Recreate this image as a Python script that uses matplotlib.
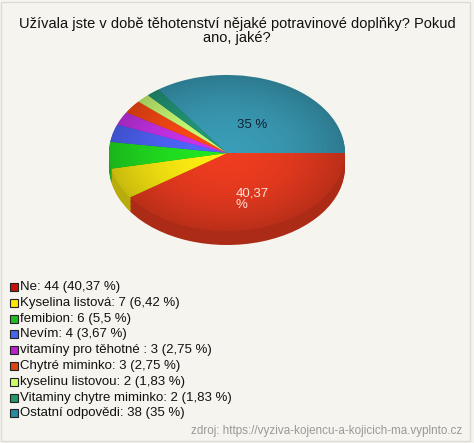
import numpy as np
import matplotlib.pyplot as plt
from matplotlib.patches import Rectangle, Ellipse
from matplotlib.colors import to_rgb

plt.rcParams['font.family'] = ['Liberation Sans', 'DejaVu Sans']

# data
labels = ['Ne', 'Kyselina listová', 'femibion', 'Nevím', 'vitamíny pro těhotné ',
          'Chytré miminko', 'kyselinu listovou', 'Vitaminy chytre miminko', 'Ostatní odpovědi']
counts = [44, 7, 6, 4, 3, 3, 2, 2, 38]
pcts = ['40,37', '6,42', '5,5', '3,67', '2,75', '2,75', '1,83', '1,83', '35']
top_colors = ['#ee3c20', '#ffee11', '#22e622', '#5066ff', '#cc33ee',
              '#ff4a14', '#ccff77', '#229977', '#3a9cb6']
legend_colors = ['#c81408', '#ffe600', '#22bb22', '#4466ee', '#bb22cc',
                 '#dd4411', '#ccff66', '#229966', '#2a8aa0']

bg = '#f5f4ee'
fig = plt.figure(figsize=(4.74, 4.43), dpi=100, facecolor=bg)
W, H = 474, 443

# frame
fig.patches.append(Rectangle((1 / W, 2 / H), 469 / W, 439 / H, transform=fig.transFigure,
                             fill=False, edgecolor='#dcdcd6', linewidth=1))

fig.text(0.5, 1 - 17 / H, 'Užívala jste v době těhotenství nějaké potravinové doplňky? Pokud\nano, jaké?',
         ha='center', va='top', fontsize=10.5, color='#111111', linespacing=1.0)

# pie axes: centre (227,153) px, rx 118, ry 78, depth 14
cx, cy, rx, ry, depth = 227, 153, 118, 78, 14
left = (cx - rx) / W
bottom = 1 - (cy + ry + depth) / H
ax = fig.add_axes([left, bottom, 2 * rx / W, (2 * ry + depth) / H])
ax.set_facecolor('none')

side_colors = [tuple(c * 0.72 for c in to_rgb(col)) for col in top_colors]
d = depth / ry
for off in np.linspace(-d, 0, 12)[:-1]:
    ax.pie(counts, colors=side_colors, startangle=0, counterclock=False,
           center=(0, off), radius=1, wedgeprops=dict(linewidth=0))
wedges, _ = ax.pie(counts, colors=top_colors, startangle=0, counterclock=False,
                   center=(0, 0), radius=1, wedgeprops=dict(linewidth=0))

# soft shading on top face: lighter centre, darker rim
gx, gy = np.meshgrid(np.linspace(-1, 1, 300), np.linspace(-1, 1, 300))
rr = np.sqrt(gx ** 2 + gy ** 2)
shade = np.zeros((300, 300, 4))
shade[..., 3] = np.clip(rr, 0, 1) ** 2 * 0.22
im = ax.imshow(shade, extent=(-1, 1, -1, 1), origin='lower', zorder=3, interpolation='bilinear')
im.set_clip_path(Ellipse((0, 0), 2, 2, transform=ax.transData))

ax.set_aspect('auto')
ax.set_xlim(-1, 1)
ax.set_ylim(-1 - d, 1)
ax.axis('off')

# percentage labels on the two big slices
total = sum(counts)
ang = 0.0
for i, c in enumerate(counts):
    mid = -(ang + c / 2) / total * 2 * np.pi
    ang += c
    if i == 0:
        ax.text(0.62 * np.cos(mid) - 0.11, 0.62 * np.sin(mid), pcts[i] + '\n%', ha='left', va='center',
                fontsize=9.5, color='#ffe0d8', zorder=5, linespacing=0.95)
    elif i == len(counts) - 1:
        ax.text(0.43 * np.cos(mid) + 0.02, 0.41 * np.sin(mid), pcts[i] + ' %', ha='center', va='center',
                fontsize=9.5, color='#112233', zorder=5)

# legend
y0, step = 287, 15.8
for i, (lab, c, p) in enumerate(zip(labels, counts, pcts)):
    y = 1 - (y0 + i * step) / H
    fig.patches.append(Rectangle((10 / W, y - 4 / H), 8 / W, 8 / H, transform=fig.transFigure,
                                 facecolor=legend_colors[i], edgecolor='#222222', linewidth=0.8))
    fig.text(20 / W, y, f'{lab}: {c} ({p} %)', ha='left', va='center', fontsize=9.5, color='#111111')

fig.text(462 / W, 1 - 431 / H, 'zdroj: https://vyziva-kojencu-a-kojicich-ma.vyplnto.cz',
         ha='right', va='center', fontsize=8.4, color='#999999')

fig.savefig('out.png', dpi=100, facecolor=bg)
